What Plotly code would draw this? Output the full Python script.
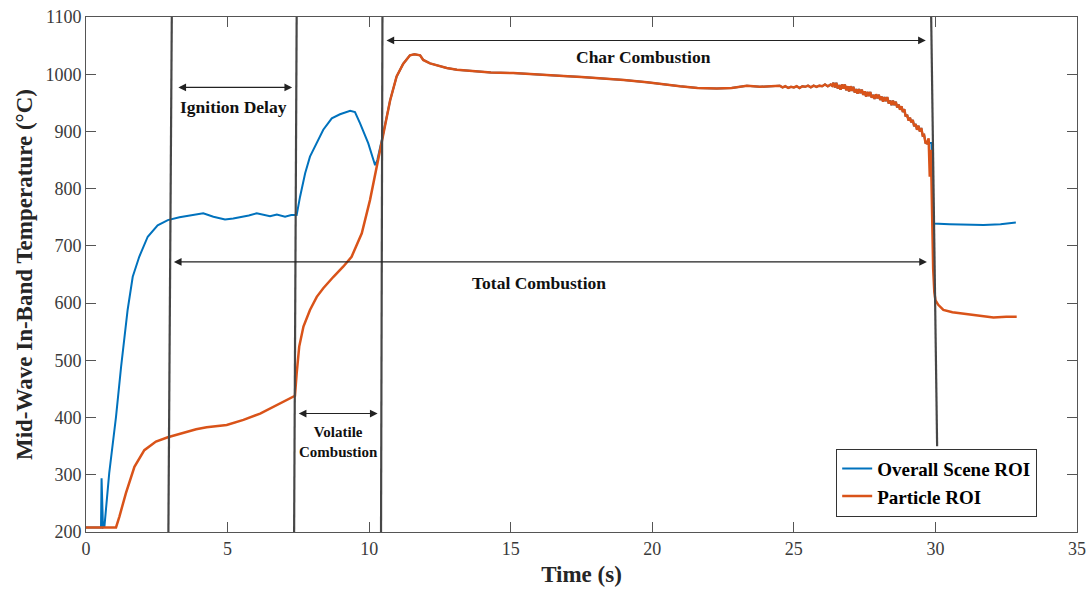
import plotly.graph_objects as go

# ---------------- data ----------------
# Overall Scene ROI before it merges with the particle curve
blue_early_t = [0, 0.53, 0.55, 0.6, 0.65, 0.82, 1.06, 1.24, 1.47, 1.65, 1.88, 2.18, 2.53, 2.89,
                3.3, 3.89, 4.14, 4.5, 4.91, 5.2, 5.44, 5.75, 6.03, 6.3, 6.5, 6.74, 7.03, 7.25, 7.44,
                7.56, 7.74, 7.91, 8.09, 8.38, 8.68, 8.97, 9.33, 9.5, 9.68, 9.97, 10.21, 10.29]
blue_early_v = [208, 208, 294, 208, 209, 303, 401, 489, 588, 646, 681, 716, 736, 745,
                750, 754, 757, 751, 746, 748, 750, 753, 757, 754, 752, 755, 751, 754, 754,
                786, 827, 856, 873, 903, 923, 930, 936, 934, 914, 879, 841, 850]

# Particle ROI before char combustion
orange_early_t = [0, 1.06, 1.18, 1.41, 1.71, 2.06, 2.47, 2.89, 3.89, 4.26, 4.97, 5.56, 6.15,
                  6.74, 7.0, 7.32, 7.38, 7.44, 7.53, 7.68, 7.91, 8.15, 8.38, 8.74, 9.09, 9.38,
                  9.74, 10.03, 10.27]
orange_early_v = [208, 208, 227, 268, 314, 343, 358, 365.5, 379.5, 383, 387, 396, 407,
                  422, 428, 436.5, 438, 477, 524, 559, 588, 611, 626, 646, 664, 681,
                  722, 780, 838]

# char combustion phase, where both ROIs coincide
char_t = [10.5, 10.74, 10.97, 11.2, 11.44, 11.6, 11.8, 11.91, 12.15, 12.45, 12.74, 13.1,
          13.56, 14.3, 15.09, 16.0, 16.86, 17.5, 18.27, 19.0, 19.81, 20.4, 20.98, 21.6,
          22.28, 22.8, 23.34, 23.8, 24.28,
          24.5, 24.6, 24.7, 24.8, 24.9, 25.0, 25.1, 25.2, 25.3, 25.4, 25.5, 25.6, 25.7,
          25.8, 25.9, 26.0, 26.1, 26.2, 26.3, 26.35,
          26.40, 26.45, 26.50, 26.55, 26.60, 26.65, 26.70, 26.75, 26.80, 26.85, 26.90,
          26.95, 27.00, 27.05, 27.10, 27.15, 27.20, 27.25, 27.30, 27.35, 27.40, 27.45,
          27.50, 27.55, 27.60, 27.65, 27.70, 27.75, 27.80, 27.85, 27.90, 27.95, 28.00,
          28.05, 28.10, 28.15, 28.20, 28.25, 28.30, 28.35, 28.40, 28.45, 28.50, 28.55,
          28.60, 28.65, 28.70, 28.75, 28.80, 28.85, 28.90, 28.95, 29.00, 29.05, 29.10,
          29.15, 29.20, 29.25, 29.30, 29.35, 29.40, 29.45, 29.50, 29.55, 29.60, 29.65,
          29.70]
char_v = [897, 954, 996, 1018, 1033, 1035, 1033, 1025, 1019, 1015, 1011, 1008,
          1006, 1003, 1002, 1000, 997, 995, 993, 990, 986, 982, 979, 976,
          975, 976, 980, 978, 979,
          980, 977, 979, 976, 978, 977, 979, 976, 979, 978, 980, 977, 980,
          978, 980, 979, 982, 979, 982, 980,
          985, 977, 985, 975, 981, 973, 982, 975, 982, 972, 979,
          970, 979, 971, 978, 968, 974, 966, 974, 967, 973, 964,
          970, 961, 969, 962, 969, 959, 964, 957, 965, 958, 964,
          955, 961, 952, 960, 953, 960, 949, 954, 946, 954, 946,
          952, 942, 947, 938, 944, 934, 939, 926, 929, 919, 924,
          916, 920, 909, 913, 903, 910, 900, 906, 893, 894, 880,
          879]

# after the particle burns out
blue_late_t = [29.76, 29.86, 29.9, 29.93, 30.5, 31.0, 31.7, 32.3, 32.84]
blue_late_v = [880, 880, 821, 739, 738, 737.5, 736.5, 738, 741]
orange_late_t = [29.76, 29.8, 29.84, 29.88, 29.92, 29.96, 30.0, 30.1, 30.28, 30.6, 31.1,
                 31.6, 32.05, 32.5, 32.87]
orange_late_v = [888, 821, 868, 760, 660, 620, 605, 597, 588, 584, 581,
                 577, 575, 576, 576]

blue_t = blue_early_t + char_t + blue_late_t
blue_v = blue_early_v + char_v + blue_late_v
orange_t = orange_early_t + char_t + orange_late_t
orange_v = orange_early_v + char_v + orange_late_v

# phase boundary lines (top x, bottom x, top y, bottom y)
bound_x0 = [3.03, 7.44, 10.47, 29.85]
bound_x1 = [2.91, 7.35, 10.42, 30.06]
bound_y0 = [1100, 1100, 1100, 1100]
bound_y1 = [200, 200, 200, 350]

# double arrows: (x start, x end, y)
arrow_x0 = [3.21, 3.05, 10.56, 7.46]
arrow_x1 = [7.28, 29.7, 29.66, 10.3]
arrow_y = [977, 672, 1059, 407]

label_text = ["Ignition Delay", "Total Combustion", "Char Combustion", "Volatile<br>Combustion"]
label_x = [5.2, 16.0, 19.7, 8.9]
label_y = [942, 635, 1030, 357]
label_size = [17.5, 17.5, 17.5, 15]

serif = "Liberation Serif, Times New Roman, serif"

fig = go.Figure()
fig.add_trace(go.Scatter(x=blue_t, y=blue_v, mode="lines", name="<b>Overall Scene ROI</b>",
                         line=dict(color="#0072BD", width=2)))
fig.add_trace(go.Scatter(x=orange_t, y=orange_v, mode="lines", name="<b>Particle ROI</b>",
                         line=dict(color="#D95319", width=2.5)))

for x0, x1, y0, y1 in zip(bound_x0, bound_x1, bound_y0, bound_y1):
    fig.add_shape(type="line", xref="x", yref="y", x0=x0, y0=y0, x1=x1, y1=y1,
                  line=dict(color="#474747", width=2.2), layer="above")

for x0, x1, y in zip(arrow_x0, arrow_x1, arrow_y):
    fig.add_annotation(x=x1, y=y, ax=x0, ay=y, xref="x", yref="y", axref="x", ayref="y",
                       text="", showarrow=True, arrowhead=2, startarrowhead=2,
                       arrowside="end+start", arrowsize=1.4, startarrowsize=1.4,
                       arrowwidth=1.1, arrowcolor="#222222", standoff=0, startstandoff=0)

for t, x, y, s in zip(label_text, label_x, label_y, label_size):
    fig.add_annotation(x=x, y=y, xref="x", yref="y", text="<b>" + t + "</b>",
                       showarrow=False, font=dict(family=serif, size=s, color="#111111"))

axis_common = dict(showline=True, linecolor="#555555", linewidth=1, mirror="ticks",
                   ticks="inside", ticklen=10, tickcolor="#555555", showgrid=False,
                   zeroline=False, automargin=False,
                   tickfont=dict(family=serif, size=18, color="#3a3a3a"))

fig.update_xaxes(range=[0, 35], dtick=5, tick0=0,
                 title=dict(text="<b>Time (s)</b>", font=dict(family=serif, size=23, color="#262626"),
                            standoff=8), **axis_common)
fig.update_yaxes(range=[200, 1100], dtick=100, tick0=200,
                 title=dict(text="<b>Mid-Wave In-Band Temperature (°C)</b>",
                            font=dict(family=serif, size=23, color="#262626"), standoff=6),
                 **axis_common)

fig.update_layout(
    width=1091, height=592,
    margin=dict(l=86, r=14, t=17, b=60),
    paper_bgcolor="white", plot_bgcolor="white",
    showlegend=True,
    legend=dict(x=0.757, y=0.162, xanchor="left", yanchor="top",
                bgcolor="white", bordercolor="#333333", borderwidth=1,
                font=dict(family=serif, size=19, color="#000000"),
                tracegroupgap=0, itemwidth=30),
)

fig.write_html("out.html")
